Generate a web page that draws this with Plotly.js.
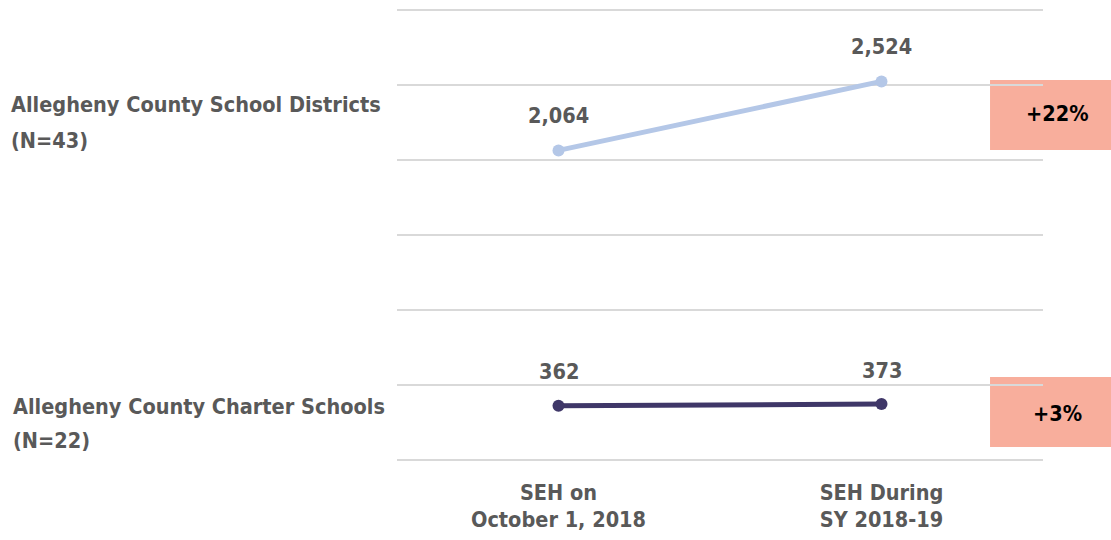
<!DOCTYPE html>
<html>
<head>
<meta charset="utf-8">
<script src="https://cdn.plot.ly/plotly-3.0.1.min.js"></script>
<style>html,body{margin:0;padding:0;background:#fff;}#chart{width:1111px;height:540px;}</style>
</head>
<body>
<div id="chart"></div>
<script>
var categories = ["SEH on<br>October 1, 2018", "SEH During<br>SY 2018-19"];
var districtValues = [2064, 2524];
var charterValues = [362, 373];
var districtLabels = ["2,064", "2,524"];
var charterLabels = ["362", "373"];
var groupLabels = ["Allegheny County School Districts<br>(N=43)", "Allegheny County Charter Schools<br>(N=22)"];
var changeLabels = ["+22%", "+3%"];

var FONT = '"Liberation Sans Narrow", "DejaVu Sans Condensed", "Arial Narrow", sans-serif';
var GRAY = '#595959';
var FS = 21.5;

var traces = [
  {x: [0, 1], y: districtValues, mode: 'lines+markers', line: {color: '#B4C7E7', width: 5}, marker: {color: '#B4C7E7', size: 12}, hoverinfo: 'skip'},
  {x: [0, 1], y: charterValues, mode: 'lines+markers', line: {color: '#3F3768', width: 5}, marker: {color: '#3F3768', size: 12}, hoverinfo: 'skip'}
];

var ann = [];
for (var i = 0; i < 2; i++) {
  ann.push({x: i, y: districtValues[i], xref: 'x', yref: 'y', xanchor: 'center', text: '<b>' + districtLabels[i] + '</b>', showarrow: false, yshift: 35, font: {family: FONT, size: FS, color: GRAY}});
  ann.push({x: i, y: charterValues[i], xref: 'x', yref: 'y', xanchor: 'center', text: '<b>' + charterLabels[i] + '</b>', showarrow: false, yshift: 34, font: {family: FONT, size: FS, color: GRAY}});
}
// group labels, one annotation per line
var g1 = groupLabels[0].split('<br>');
var g2 = groupLabels[1].split('<br>');
ann.push({x: -0.6, y: 2367, xref: 'paper', yref: 'y', xanchor: 'left', align: 'left', text: '<b>' + g1[0] + '</b>', showarrow: false, font: {family: FONT, size: FS, color: GRAY}});
ann.push({x: -0.6, y: 2133, xref: 'paper', yref: 'y', xanchor: 'left', align: 'left', text: '<b>' + g1[1] + '</b>', showarrow: false, font: {family: FONT, size: FS, color: GRAY}});
ann.push({x: -0.597, y: 360, xref: 'paper', yref: 'y', xanchor: 'left', align: 'left', text: '<b>' + g2[0] + '</b>', showarrow: false, font: {family: FONT, size: FS, color: GRAY}});
ann.push({x: -0.597, y: 133, xref: 'paper', yref: 'y', xanchor: 'left', align: 'left', text: '<b>' + g2[1] + '</b>', showarrow: false, font: {family: FONT, size: FS, color: GRAY}});
ann.push({x: 1.023, y: 2313, xref: 'paper', yref: 'y', xanchor: 'center', text: '<b>' + changeLabels[0] + '</b>', showarrow: false, font: {family: FONT, size: FS, color: '#000'}});
ann.push({x: 1.023, y: 313, xref: 'paper', yref: 'y', xanchor: 'center', text: '<b>' + changeLabels[1] + '</b>', showarrow: false, font: {family: FONT, size: FS, color: '#000'}});

var shapes = [
  {type: 'rect', xref: 'paper', yref: 'y', x0: 0.918, x1: 1.11, y0: 2067, y1: 2533, fillcolor: '#F8AE9C', line: {width: 0}, layer: 'below'},
  {type: 'rect', xref: 'paper', yref: 'y', x0: 0.918, x1: 1.11, y0: 87, y1: 553, fillcolor: '#F8AE9C', line: {width: 0}, layer: 'below'}
];

var layout = {
  width: 1111, height: 540,
  margin: {l: 397, r: 68, t: 7, b: 77},
  paper_bgcolor: '#fff', plot_bgcolor: '#fff',
  showlegend: false,
  xaxis: {range: [-0.5, 1.5], tickvals: [0, 1], ticktext: categories.map(function(c){return '<b>' + c + '</b>';}), showgrid: false, zeroline: false, showline: false, ticks: '', ticklabelstandoff: 14, tickfont: {family: FONT, size: FS, color: GRAY}, fixedrange: true},
  yaxis: {range: [-20, 3020], tickvals: [0, 500, 1000, 1500, 2000, 2500, 3000], showticklabels: false, showgrid: true, gridcolor: '#D9D9D9', gridwidth: 2, zeroline: false, showline: false, ticks: '', fixedrange: true},
  annotations: ann,
  shapes: shapes
};

Plotly.newPlot('chart', traces, layout, {displayModeBar: false, staticPlot: true});
</script>
</body>
</html>
